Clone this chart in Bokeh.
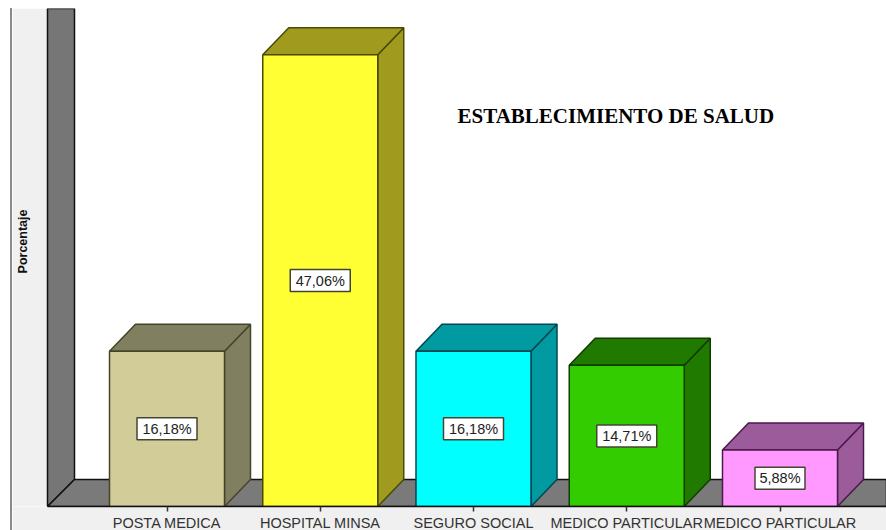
import math
from bokeh.plotting import figure
from bokeh.models import ColumnDataSource, FixedTicker, Label, Range1d
from bokeh.embed import file_html
from bokeh.resources import INLINE
from bokeh.core.properties import value

categories = ["POSTA MEDICA", "HOSPITAL MINSA", "SEGURO SOCIAL", "MEDICO PARTICULAR", "MEDICO PARTICULAR"]
percentages = [16.18, 47.06, 16.18, 14.71, 5.88]
value_labels = ["16,18%", "47,06%", "16,18%", "14,71%", "5,88%"]
front_colors = ["#d2cc98", "#ffff33", "#00ffff", "#33cc00", "#ff99ff"]
side_colors = ["#808060", "#a09a1e", "#009aa0", "#217a00", "#9c5c9c"]
edge_colors = ["#45452a", "#4a4a05", "#004650", "#0f3d00", "#4a1a4a"]

PX_X = 153.25
PX_Y = 9.6
X0 = -154.5 / PX_X
X1 = X0 + 874 / PX_X
Y1 = 498 / PX_Y
HALF = 57.5 / PX_X
DX = 26 / PX_X
DY = 27 / PX_Y
WALL_L = X0 + 35 / PX_X
WALL_R = WALL_L + 27 / PX_X

p = figure(frame_width=874, frame_height=498, output_backend="svg", toolbar_location=None,
           x_range=Range1d(X0, X1), y_range=Range1d(0, Y1),
           min_border_left=0, min_border_right=0, min_border_top=0, min_border_bottom=23,
           border_fill_color="#f0f0f0", background_fill_color="#ffffff",
           outline_line_color=None, margin=(8, 0, 0, 10))
p.styles = {"border-left": "2px solid #8a8a8a"}
p.grid.visible = False
p.yaxis.visible = False

ax = p.xaxis[0]
ax.ticker = FixedTicker(ticks=list(range(len(categories))))
ax.major_label_overrides = {i: c for i, c in enumerate(categories)}
ax.bounds = (WALL_L, X1)
ax.major_tick_in = 0
ax.major_tick_out = 5
ax.minor_tick_out = 0
ax.minor_tick_in = 0
ax.major_tick_line_color = "#333333"
ax.major_tick_line_width = 1.5
ax.axis_line_color = "#111111"
ax.axis_line_width = 1.5
ax.major_label_text_font = "Liberation Sans"
ax.major_label_text_font_size = "14.5px"
ax.major_label_text_color = "#333333"
ax.major_label_standoff = 3
ax.major_label_orientation = "horizontal"

# Left margin strip, back wall and floor
p.quad(left=X0, right=WALL_L, bottom=0, top=Y1, fill_color="#f0f0f0", line_color=None)
p.patch([WALL_L, WALL_R, WALL_R, WALL_L], [0, DY, Y1, Y1],
        fill_color="#767676", line_color="#111111", line_width=1.5)
p.patch([WALL_L, WALL_R, X1, X1], [0, DY, DY, 0],
        fill_color="#7a7a7a", line_color="#111111", line_width=1.5)

# 3D bars
for i, v in enumerate(percentages):
    l, r = i - HALF, i + HALF
    p.patch([r, r + DX, r + DX, r], [0, DY, v + DY, v],
            fill_color=side_colors[i], line_color=edge_colors[i], line_width=1.5)
    p.patch([l, l + DX, r + DX, r], [v, v + DY, v + DY, v],
            fill_color=side_colors[i], line_color=edge_colors[i], line_width=1.5)
    p.quad(left=l, right=r, bottom=0, top=v,
           fill_color=front_colors[i], line_color=edge_colors[i], line_width=1.5)

src = ColumnDataSource(dict(x=list(range(len(percentages))),
                            y=[v / 2 for v in percentages],
                            t=value_labels,
                            w=[60, 60, 60, 60, 50]))
p.rect("x", "y", width="w", height=22, width_units="screen", height_units="screen", source=src,
       fill_color="#ffffff", line_color="#444433", line_width=1.5)
p.text("x", "y", text="t", source=src, text_align="center", text_baseline="middle",
       text_font=value("Liberation Sans"), text_font_size="14.5px", text_color="#222222")

p.add_layout(Label(x=445, y=391, x_units="screen", y_units="screen",
                   text="ESTABLECIMIENTO DE SALUD",
                   text_font="Liberation Serif", text_font_style="bold",
                   text_font_size="21px", text_color="#000000",
                   text_align="left", text_baseline="middle"))
p.add_layout(Label(x=10, y=265, x_units="screen", y_units="screen",
                   text="Porcentaje", angle=math.pi / 2,
                   text_font="Liberation Sans", text_font_style="bold",
                   text_font_size="12.5px", text_color="#111111",
                   text_align="center", text_baseline="middle"))

open("out.html", "w").write(file_html(p, INLINE))
